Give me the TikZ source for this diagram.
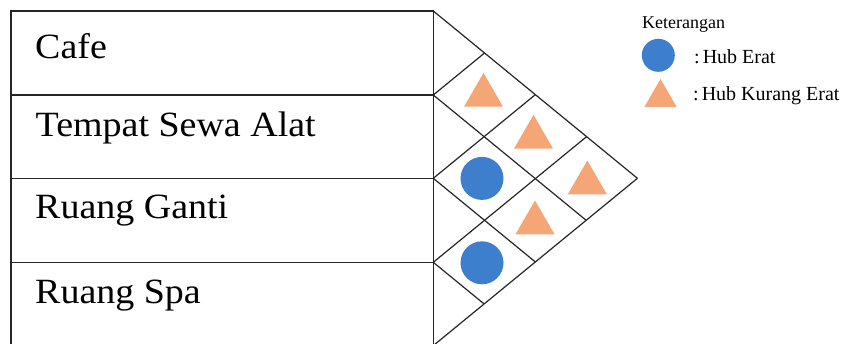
\documentclass[tikz,border=0pt]{standalone}
\usepackage{fontspec}
\setmainfont{Liberation Serif}
\newfontfamily\rowfont[FakeStretch=1.07]{Liberation Serif}
\usetikzlibrary{shapes.geometric,calc}
\definecolor{hubblue}{HTML}{3D7FCC}
\definecolor{huborange}{HTML}{F5A677}
\begin{document}
\begin{tikzpicture}[x=1pt,y=-1pt,
  boxline/.style={line width=1.6pt, draw=black!85},
  gridline/.style={line width=1.2pt, draw=black!85},
  rowlabel/.style={anchor=base west, inner sep=0pt, font=\rowfont\fontsize{35.5}{38}\selectfont},
  legtext/.style={anchor=base west, inner sep=0pt, font=\fontsize{20}{22}\selectfont},
  dot/.style={circle, fill=hubblue, inner sep=0pt, minimum size=43pt},
  tri/.style={regular polygon, regular polygon sides=3, fill=huborange, inner sep=0pt, minimum size=45pt},
]
\useasboundingbox (0,0) rectangle (851,343);
\fill[white] (0,0) rectangle (851,343);
\begin{scope}
\clip (0,0) rectangle (851,343);
\def\L{433.3}
\def\k{1.22}
% table of activities
\coordinate (tl) at (11,11);
\coordinate (tr) at (\L,11);
\coordinate (bl) at (11,345.6);
\coordinate (br) at (\L,345.6);
\draw[boxline] (bl) -- (tl) -- (tr) -- (br);
\foreach \i/\yb in {1/95,2/178.3,3/262.3}{
  \coordinate (rl\i) at (11,\yb);
  \coordinate (rr\i) at (\L,\yb);
  \draw[boxline] (rl\i) -- (rr\i);
}
% relation matrix grid
\foreach \i/\yb in {0/11,1/95,2/178.3,3/262.3,4/345.6}{
  \pgfmathsetmacro{\yu}{(11+\yb)/2}
  \pgfmathsetmacro{\xu}{\L+\k*(\yb-11)/2}
  \pgfmathsetmacro{\yd}{(\yb+345.6)/2}
  \pgfmathsetmacro{\xd}{\L+\k*(345.6-\yb)/2}
  \coordinate (e\i) at (\L,\yb);
  \coordinate (u\i) at (\xu,\yu);
  \coordinate (d\i) at (\xd,\yd);
  \draw[gridline] (u\i) -- (e\i) -- (d\i);
}
\end{scope}
% row labels
\node[rowlabel] (cafe) at (35,58.3) {Cafe};
\node[rowlabel] (sewa) at (35.5,136.7) {Tempat Sewa Alat};
\node[rowlabel] (ganti) at (35,218.3) {Ruang Ganti};
\node[rowlabel] (spa) at (35,303.3) {Ruang Spa};
% relation symbols
\node[tri] (r12) at (483.5,95.4) {};
\node[tri] (r13) at (533.5,137.3) {};
\node[tri] (r14) at (587.3,183) {};
\node[tri] (r24) at (535,223) {};
\node[dot] (r23) at (482,178.4) {};
\node[dot] (r34) at (482,262.8) {};
% legend
\node[legtext, font=\fontsize{18}{20}\selectfont] (legtitle) at (642,28.3) {Keterangan};
\node[dot, minimum size=33pt] (legdot) at (658.3,55.3) {};
\node[legtext] (legdottxt) at (694,63.3) {:\hspace{3pt}Hub Erat};
\node[tri, minimum size=37pt] (legtri) at (660.5,97.5) {};
\node[legtext] (legtritxt) at (693,100) {:\hspace{3pt}Hub Kurang Erat};
\end{tikzpicture}
\end{document}
